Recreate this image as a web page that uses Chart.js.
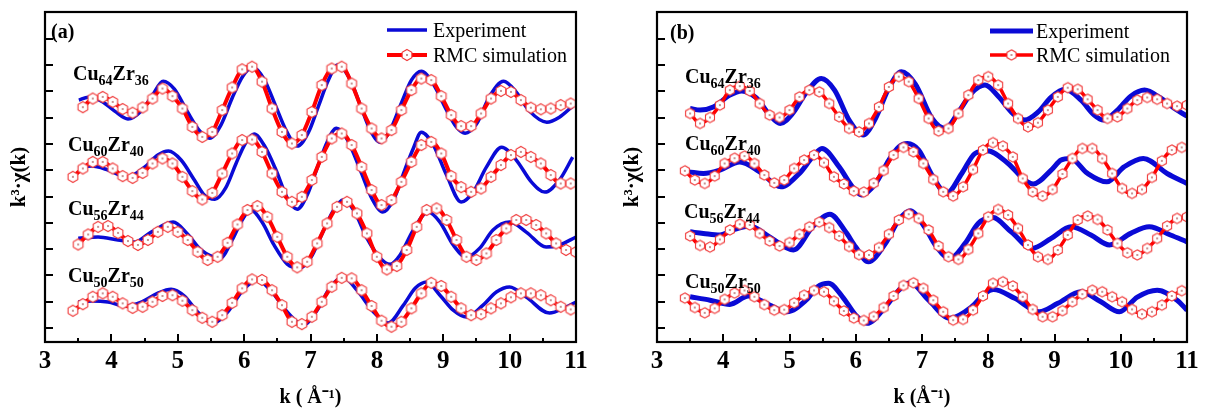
<!DOCTYPE html>
<html><head><meta charset="utf-8">
<script src="https://cdn.jsdelivr.net/npm/chart.js@4/dist/chart.umd.min.js"></script>
<style>
html,body{margin:0;padding:0;background:#fff;}
#wrap{position:relative;width:1205px;height:412px;overflow:hidden;background:#fff;}
#ca{position:absolute;left:0;top:0;}
#cb{position:absolute;left:603px;top:0;}
</style></head><body>
<div id="wrap"><canvas id="ca" width="603" height="412"></canvas><canvas id="cb" width="602" height="412"></canvas></div>
<script>
// ---------- data (y in axis units, ticks at 0..11) ----------
const xTickLabels = [3, 4, 5, 6, 7, 8, 9, 10, 11];
const xMinorTicks = [3.5, 4.5, 5.5, 6.5, 7.5, 8.5, 9.5, 10.5];
const yTicks = [0, 1, 2, 3, 4, 5, 6, 7, 8, 9, 10, 11];
const seriesNames = ["Experiment", "RMC simulation"];
const alloyLabels = [["Cu","64","Zr","36"],["Cu","60","Zr","40"],["Cu","56","Zr","44"],["Cu","50","Zr","50"]];

const kGridA = [3.42,3.57,3.72,3.87,4.02,4.17,4.32,4.47,4.62,4.77,4.92,5.07,5.22,5.37,5.52,5.67,5.82,5.97,6.12,6.27,6.42,6.57,6.72,6.87,7.02,7.17,7.32,7.47,7.62,7.77,7.92,8.07,8.22,8.37,8.52,8.67,8.82,8.97,9.12,9.27,9.42,9.57,9.72,9.87,10.02,10.17,10.32,10.47,10.62,10.77,10.92];
const kGridB = [3.50,3.65,3.80,3.95,4.10,4.25,4.40,4.55,4.70,4.85,5.00,5.15,5.30,5.45,5.60,5.75,5.90,6.05,6.20,6.35,6.50,6.65,6.80,6.95,7.10,7.25,7.40,7.55,7.70,7.85,8.00,8.15,8.30,8.45,8.60,8.75,8.90,9.05,9.20,9.35,9.50,9.65,9.80,9.95,10.10,10.25,10.40,10.55,10.70,10.85,11.00];

// panel (a) RMC simulation
const simA1 = [null,8.40,8.73,8.79,8.60,8.33,8.19,8.39,8.73,9.11,8.82,8.35,7.65,7.27,7.46,8.29,9.15,9.84,9.94,9.37,8.35,7.46,7.02,7.34,8.22,9.24,9.87,9.94,9.30,8.35,7.59,7.21,7.53,8.29,9.05,9.49,9.43,8.82,8.10,7.68,7.68,8.16,8.73,9.02,8.98,8.67,8.38,8.32,8.35,8.48,8.54];
const simA2 = [5.75,6.07,6.32,6.32,6.07,5.78,5.71,5.90,6.26,6.45,6.26,5.75,5.21,4.89,5.14,5.88,6.64,7.15,7.17,6.70,5.88,5.18,4.80,4.99,5.63,6.51,7.21,7.40,6.96,6.13,5.25,4.68,4.87,5.56,6.32,6.96,7.08,6.64,5.78,5.36,5.18,5.31,5.75,6.20,6.58,6.70,6.51,6.26,5.82,5.50,5.50];
const simA3 = [3.18,3.56,3.85,3.88,3.62,3.31,3.16,3.35,3.66,3.85,3.66,3.35,2.90,2.59,2.71,3.24,3.94,4.49,4.64,4.23,3.47,2.71,2.31,2.52,3.22,3.98,4.61,4.80,4.36,3.60,2.71,2.23,2.36,2.97,3.85,4.49,4.55,4.11,3.35,2.71,2.59,2.84,3.35,3.79,4.11,4.11,3.92,3.60,3.22,2.97,2.89];
const simA4 = [0.66,0.91,1.19,1.32,1.19,0.94,0.77,0.81,1.00,1.22,1.25,1.04,0.68,0.39,0.24,0.49,0.96,1.51,1.85,1.83,1.44,0.87,0.24,0.15,0.43,1.00,1.57,1.91,1.89,1.44,0.84,0.28,0.05,0.24,0.75,1.32,1.72,1.60,1.19,0.75,0.49,0.53,0.75,0.94,1.17,1.32,1.32,1.25,1.06,0.81,0.71];

// panel (a) experiment
const expA1K = [3.51,3.65,3.85,4.05,4.25,4.45,4.62,4.78,4.95,5.15,5.32,5.48,5.65,5.82,5.98,6.13,6.30,6.47,6.63,6.80,6.97,7.12,7.27,7.41,7.57,7.75,7.90,8.05,8.20,8.37,8.52,8.67,8.85,9.05,9.20,9.33,9.50,9.70,9.91,10.10,10.30,10.56,10.75,10.95];
const expA1V = [8.67,8.78,8.63,8.25,7.95,8.25,8.86,9.39,9.09,8.21,7.53,7.22,7.72,8.75,9.58,9.92,9.47,8.48,7.53,6.92,7.45,8.44,9.43,10.00,9.58,8.48,7.53,7.07,7.53,8.56,9.43,9.77,9.28,8.29,7.64,7.41,7.76,8.82,9.39,8.97,8.25,7.83,8.02,8.44];
const expA2K = [3.50,3.70,3.95,4.23,4.50,4.70,4.86,5.05,5.25,5.40,5.56,5.72,5.88,6.02,6.15,6.30,6.48,6.65,6.80,6.95,7.10,7.25,7.39,7.55,7.75,7.93,8.09,8.25,8.42,8.55,8.67,8.85,9.05,9.27,9.45,9.65,9.88,10.10,10.33,10.53,10.75,10.95];
const expA2V = [6.08,6.16,6.01,5.74,6.12,6.58,6.73,6.39,5.63,5.06,4.90,5.32,6.27,7.03,7.38,6.96,6.01,4.94,4.52,5.06,6.08,7.07,7.60,7.19,6.01,4.90,4.41,4.87,6.01,6.84,7.45,6.96,5.82,4.79,5.17,6.12,6.88,6.39,5.55,5.17,5.63,6.50];
const expA3K = [3.50,3.80,4.10,4.35,4.60,4.93,5.15,5.35,5.64,5.82,5.97,6.10,6.27,6.45,6.65,6.84,7.00,7.20,7.35,7.49,7.65,7.85,8.05,8.20,8.35,8.55,8.77,8.95,9.15,9.35,9.55,9.75,10.00,10.25,10.55,10.75,11.00];
const expA3V = [3.42,3.46,3.35,3.27,3.65,4.03,3.57,2.97,2.66,3.35,4.11,4.49,4.03,3.16,2.43,2.28,2.66,3.73,4.49,4.87,4.49,3.42,2.66,2.43,2.78,3.73,4.41,4.03,3.16,2.70,3.04,3.73,4.03,3.65,3.08,3.16,3.46];
const expA4K = [3.50,3.70,3.95,4.20,4.45,4.70,4.90,5.10,5.30,5.53,5.75,5.98,6.20,6.42,6.65,6.89,7.10,7.30,7.49,7.70,7.95,8.17,8.40,8.58,8.75,8.95,9.15,9.35,9.60,9.80,10.00,10.25,10.60,10.85,11.00];
const expA4V = [0.99,1.03,0.99,0.84,0.99,1.33,1.48,1.22,0.61,0.19,0.61,1.44,1.83,1.37,0.61,0.11,0.68,1.56,1.94,1.44,0.61,0.19,0.87,1.52,1.75,1.25,0.68,0.42,0.87,1.37,1.56,1.18,0.57,0.80,0.99];

// panel (b) RMC simulation
const simB1 = [8.16,7.78,8.01,8.48,9.05,9.20,9.02,8.54,8.10,8.01,8.29,8.79,9.05,8.98,8.54,8.03,7.59,7.46,7.78,8.41,9.17,9.56,9.37,8.73,7.97,7.49,7.59,8.16,8.86,9.43,9.56,9.24,8.54,7.97,7.65,7.81,8.29,8.79,9.14,9.08,8.70,8.29,7.97,8.03,8.35,8.67,8.77,8.70,8.54,8.44,8.48];
const simB2 = [5.98,5.63,5.50,5.78,6.26,6.46,6.54,6.26,5.82,5.52,5.63,6.07,6.39,6.58,6.29,5.75,5.48,5.21,5.17,5.51,5.99,6.58,6.87,6.70,6.26,5.65,5.18,5.02,5.37,6.03,6.77,7.05,6.92,6.51,5.69,5.18,5.02,5.27,5.86,6.45,6.83,6.83,6.45,5.88,5.31,5.12,5.27,5.73,6.36,6.77,6.87];
const simB3 = [3.50,3.14,3.08,3.37,3.73,3.95,3.92,3.60,3.31,3.12,3.25,3.57,3.85,4.03,3.82,3.50,3.10,2.79,2.78,3.06,3.57,4.11,4.33,4.17,3.73,3.12,2.71,2.61,2.99,3.60,4.23,4.51,4.30,3.79,3.16,2.71,2.61,2.97,3.54,4.11,4.26,4.13,3.73,3.22,2.86,2.78,3.03,3.41,3.88,4.17,4.23];
const simB4 = [1.14,0.78,0.58,0.75,1.09,1.33,1.43,1.19,0.89,0.68,0.70,0.96,1.25,1.43,1.38,1.02,0.65,0.38,0.29,0.44,0.78,1.22,1.62,1.72,1.51,1.06,0.62,0.30,0.33,0.68,1.22,1.70,1.76,1.60,1.19,0.71,0.43,0.43,0.66,1.00,1.29,1.44,1.38,1.19,1.00,0.71,0.53,0.62,0.87,1.22,1.42];

// panel (b) experiment
const expB1K = [3.50,3.65,3.85,4.10,4.28,4.50,4.70,4.86,5.05,5.25,5.48,5.68,5.90,6.11,6.30,6.50,6.69,6.90,7.15,7.35,7.55,7.75,7.95,8.15,8.38,8.55,8.75,8.95,9.16,9.40,9.60,9.74,9.95,10.15,10.36,10.60,10.80,11.00];
const expB1V = [8.35,8.29,8.41,8.86,9.02,8.75,8.10,7.78,8.17,8.94,9.49,9.05,7.91,7.34,7.98,9.13,9.75,9.28,7.98,7.59,8.21,8.94,9.24,8.82,8.14,7.91,8.21,8.78,9.08,8.67,8.10,7.91,8.29,8.82,9.05,8.75,8.37,8.06];
const expB2K = [3.48,3.70,3.95,4.25,4.55,4.87,5.15,5.35,5.49,5.75,5.95,6.09,6.30,6.50,6.65,6.78,6.95,7.15,7.37,7.60,7.80,7.98,8.30,8.55,8.68,8.95,9.10,9.24,9.50,9.79,10.05,10.34,10.70,11.00];
const expB2V = [5.94,5.88,6.01,6.32,5.94,5.37,5.88,6.51,6.83,6.13,5.37,5.06,5.50,6.39,6.89,7.02,6.77,5.82,5.12,5.88,6.64,6.74,6.26,5.63,5.48,6.01,6.39,6.45,5.88,5.56,6.13,6.45,5.88,5.50];
const expB3K = [3.50,3.70,3.95,4.15,4.40,4.70,5.06,5.35,5.61,5.85,6.00,6.19,6.45,6.65,6.82,7.05,7.20,7.42,7.65,7.85,8.06,8.35,8.66,8.95,9.25,9.55,9.83,10.15,10.43,10.75,11.00];
const expB3V = [3.66,3.60,3.54,3.73,3.88,3.47,2.97,3.85,4.33,3.65,3.08,2.52,3.22,4.11,4.46,3.80,3.16,2.65,3.22,3.98,4.21,3.65,3.03,3.41,3.85,3.54,3.16,3.60,3.85,3.54,3.28];
const expB4K = [3.50,3.80,4.10,4.38,4.70,4.96,5.25,5.42,5.59,5.80,6.00,6.17,6.45,6.65,6.82,7.10,7.42,7.75,7.95,8.08,8.40,8.77,9.05,9.40,9.70,9.98,10.25,10.55,10.85,11.00];
const expB4V = [1.19,1.06,0.90,1.22,0.87,0.62,1.06,1.56,1.70,1.19,0.49,0.18,0.81,1.44,1.72,1.06,0.37,0.81,1.32,1.47,1.13,0.62,0.94,1.38,1.00,0.62,1.18,1.44,1.06,0.68];

// ---------- styling ----------
const FONT = "'Liberation Serif', 'Times New Roman', serif";
const BLUE = '#0a0ad6';
const RED = '#ff0000';

function hexMarker(r, lw){
  const s = 2*Math.ceil(r + lw + 1);
  const c = document.createElement('canvas'); c.width = s; c.height = s;
  const g = c.getContext('2d');
  const cx = s/2, cy = s/2;
  g.beginPath();
  for (let i=0;i<6;i++){
    const a = -Math.PI/2 + i*Math.PI/3;
    const px = cx + r*Math.cos(a), py = cy + r*Math.sin(a);
    if (i) g.lineTo(px,py); else g.moveTo(px,py);
  }
  g.closePath(); g.fillStyle='#fff'; g.fill();
  g.strokeStyle='#f03a3a'; g.lineWidth=lw; g.stroke();
  g.beginPath(); g.arc(cx,cy,0.9,0,Math.PI*2); g.fillStyle='#b06060'; g.fill();
  return c;
}
const markA = hexMarker(5.6, 1.1);
const markB = hexMarker(5.2, 1.1);

function pts(ks, vs){ return ks.map((k,i)=>({x:k, y:vs[i]})); }
function simDS(label, ks, vs, lw, mk){
  return {label, data: pts(ks,vs), borderColor:RED, backgroundColor:RED, borderWidth:lw,
    pointStyle: mk, pointRadius:5, pointHoverRadius:5, cubicInterpolationMode:'monotone', order:0, fill:false};
}
function expDS(label, ks, vs, lw){
  return {label, data: pts(ks,vs), borderColor:BLUE, backgroundColor:BLUE, borderWidth:lw,
    pointRadius:0, pointHoverRadius:0, cubicInterpolationMode:'monotone', order:1, fill:false};
}

const framePlugin = {
  id:'frame',
  afterDraw(chart, args, o){
    const ctx = chart.ctx, a = chart.chartArea;
    const xs = chart.scales.x, ys = chart.scales.y;
    ctx.save();
    ctx.strokeStyle = '#000'; ctx.lineWidth = 2.2;
    ctx.strokeRect(a.left, a.top, a.right - a.left, a.bottom - a.top);
    ctx.lineWidth = 2;
    ctx.beginPath();
    yTicks.forEach(v => { const y = Math.round(ys.getPixelForValue(v)); ctx.moveTo(a.left, y); ctx.lineTo(a.left + 8, y); });
    xTickLabels.forEach(v => { const x = Math.round(xs.getPixelForValue(v)); ctx.moveTo(x, a.bottom); ctx.lineTo(x, a.bottom - 8); });
    xMinorTicks.forEach(v => { const x = Math.round(xs.getPixelForValue(v)); ctx.moveTo(x, a.bottom); ctx.lineTo(x, a.bottom - 4); });
    ctx.stroke();

    // panel letter
    ctx.fillStyle = '#000';
    ctx.textBaseline = 'alphabetic'; ctx.textAlign = 'left';
    ctx.font = 'bold 20px ' + FONT;
    ctx.fillText(o.letter, o.letterX, o.letterY);

    // alloy labels with subscripts
    alloyLabels.forEach((parts, i) => {
      let x = o.labX[i]; const y = o.labY[i];
      parts.forEach((p, j) => {
        const sub = j % 2 === 1;
        ctx.font = 'bold ' + (sub ? 14 : 20) + 'px ' + FONT;
        ctx.fillText(p, x, sub ? y + 5 : y);
        x += ctx.measureText(p).width;
      });
    });

    // legend
    const lx0 = o.legX0, lx1 = o.legX1;
    ctx.lineCap = 'butt';
    ctx.strokeStyle = BLUE; ctx.lineWidth = o.blueW;
    ctx.beginPath(); ctx.moveTo(lx0, o.legY1); ctx.lineTo(lx1, o.legY1); ctx.stroke();
    ctx.strokeStyle = RED; ctx.lineWidth = o.redW;
    ctx.beginPath(); ctx.moveTo(lx0, o.legY2); ctx.lineTo(lx1, o.legY2); ctx.stroke();
    const mk = o.mark;
    ctx.drawImage(mk, (lx0+lx1)/2 - mk.width/2, o.legY2 - mk.height/2);
    ctx.fillStyle = '#000';
    ctx.font = '20px ' + FONT;
    ctx.fillText(seriesNames[0], o.legTextX, o.legY1 + 7);
    ctx.fillText(seriesNames[1], o.legTextX, o.legY2 + 7);
    ctx.restore();
  }
};

function makeChart(id, datasets, cfg){
  return new Chart(document.getElementById(id), {
    type:'line',
    data:{datasets},
    plugins:[framePlugin],
    options:{
      responsive:false, animation:false, devicePixelRatio:1,
      events:[],
      layout:{padding:{left:0, top:12, right:cfg.padRight, bottom:0}},
      plugins:{legend:{display:false}, tooltip:{enabled:false}, frame:cfg},
      scales:{
        x:{type:'linear', min:3, max:11,
          afterFit:(s)=>{ s.height = 70; },
          grid:{display:false, drawTicks:false}, border:{display:false},
          ticks:{stepSize:1, autoSkip:false, maxRotation:0, padding:5, color:'#000',
                 font:{family:FONT, size:25, weight:'bold'}, callback:(v)=>String(v)},
          title:{display:true, text:cfg.xTitle, color:'#000',
                 font:{family:FONT, size:20, weight:'bold'}, padding:{top:0, bottom:2}}},
        y:{type:'linear', min:-0.53, max:12.02,
          afterFit:(s)=>{ s.width = cfg.yWidth; },
          grid:{display:false, drawTicks:false}, border:{display:false},
          ticks:{display:false},
          title:{display:true, text:'k³·χ(k)', color:'#000',
                 font:{family:FONT, size:21, weight:'bold'}, padding:{top:cfg.yTitlePad, bottom:0}}}
      }
    }
  });
}

makeChart('ca', [
  simDS('RMC Cu64Zr36', kGridA, simA1, 4, markA),
  simDS('RMC Cu60Zr40', kGridA, simA2, 4, markA),
  simDS('RMC Cu56Zr44', kGridB, simA3, 4, markA),
  simDS('RMC Cu50Zr50', kGridA, simA4, 4, markA),
  expDS('Exp Cu64Zr36', expA1K, expA1V, 3.5),
  expDS('Exp Cu60Zr40', expA2K, expA2V, 3.5),
  expDS('Exp Cu56Zr44', expA3K, expA3V, 3.5),
  expDS('Exp Cu50Zr50', expA4K, expA4V, 3.5)
], {padRight:27, yWidth:45, yTitlePad:7, xTitle:'k ( Å⁻¹)',
    letter:'(a)', letterX:51, letterY:38,
    labX:[73,68,68,68], labY:[80,151,215,282],
    legX0:387, legX1:427, legY1:30, legY2:55, legTextX:433, blueW:3.5, redW:4, mark:markA});

makeChart('cb', [
  simDS('RMC Cu64Zr36', kGridB, simB1, 3.5, markB),
  simDS('RMC Cu60Zr40', kGridA, simB2, 3.5, markB),
  simDS('RMC Cu56Zr44', kGridB, simB3, 3.5, markB),
  simDS('RMC Cu50Zr50', kGridA, simB4, 3.5, markB),
  expDS('Exp Cu64Zr36', expB1K, expB1V, 5),
  expDS('Exp Cu60Zr40', expB2K, expB2V, 5),
  expDS('Exp Cu56Zr44', expB3K, expB3V, 5),
  expDS('Exp Cu50Zr50', expB4K, expB4V, 5)
], {padRight:18, yWidth:54, yTitlePad:17, xTitle:'k (Å⁻¹)',
    letter:'(b)', letterX:67, letterY:39,
    labX:[82,82,81,82], labY:[83,150,218,288],
    legX0:387, legX1:430, legY1:31, legY2:55, legTextX:433, blueW:5, redW:3.5, mark:markB});
</script>
</body></html>
